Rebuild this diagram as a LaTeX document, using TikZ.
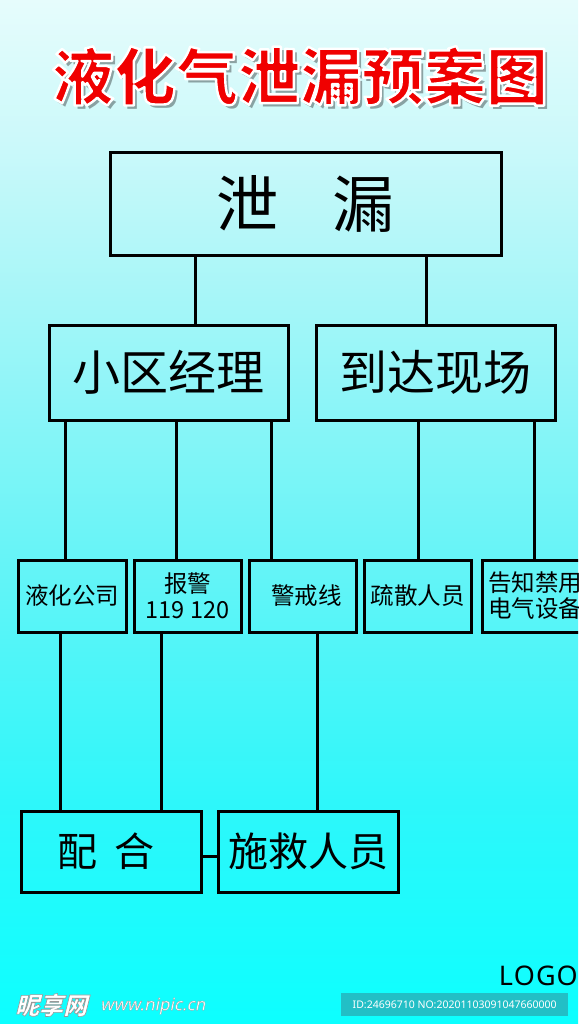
\documentclass[tikz,border=0pt]{standalone}
\usepackage{fontspec}
\newfontfamily\cjk{Noto Sans CJK SC}
\newfontfamily\cjkslant[FakeSlant=0.25]{Noto Sans CJK SC}
\newfontfamily\latinsans{Noto Sans}
\newfontfamily\latinslant[FakeSlant=0.2]{Noto Sans}
\definecolor{bgT}{HTML}{E6FCFC}
\definecolor{bgA}{HTML}{CCF9FA}
\definecolor{bgB}{HTML}{A6F6F8}
\definecolor{bgC}{HTML}{66F4F7}
\definecolor{bgD}{HTML}{2EF7FA}
\definecolor{bgE}{HTML}{0CFFFF}
\definecolor{titlered}{HTML}{F00000}
\definecolor{idteal}{HTML}{22BFC6}
\pgfdeclareverticalshading{bgshade}{100bp}{color(0bp)=(bgE); color(25bp)=(bgE); color(35.9bp)=(bgD); color(47.7bp)=(bgC); color(60.4bp)=(bgB); color(68.2bp)=(bgA); color(75bp)=(bgT); color(100bp)=(bgT)}
\newcommand{\outlinedtext}[1]{\special{pdf:literal direct 2 Tr 2.4 w 1 J 1 j 1 1 1 RG}#1\special{pdf:literal direct 0 Tr}}
\tikzset{
  box/.style={draw=black, line width=3pt, inner sep=0pt, outer sep=0pt, anchor=north west, align=center},
  conn/.style={draw=black, line width=3pt},
  ttl/.style={font=\cjk\bfseries\fontsize{62}{62}\selectfont, inner sep=0pt}
}
\begin{document}
\begin{tikzpicture}[x=1pt,y=-1pt]
\useasboundingbox (0,0) rectangle (578,1024);
\clip (0,0) rectangle (578,1024);
\shade[shading=bgshade] (0,0) rectangle (578,1024);

% title: soft shadow, then red text with white outline
\begin{scope}[opacity=0.35]
\node[ttl, text=black] (tshadow) at (303,80) {液化气泄漏预案图};
\end{scope}
\node[ttl, text=titlered] (title) at (300,76) {\outlinedtext{液化气泄漏预案图}};

% level 1
\node[box, minimum width=391pt, minimum height=102pt, font=\cjk\fontsize{62}{62}\selectfont] (leak) at (110,153) {泄\hspace{55pt}漏};

% level 2
\node[box, minimum width=239pt, minimum height=95pt, font=\cjk\fontsize{48}{48}\selectfont] (mgr) at (49,325) {小区经理};
\node[box, minimum width=239pt, minimum height=95pt, font=\cjk\fontsize{48}{48}\selectfont] (arrive) at (316,325) {到达现场};

% level 3
\tikzset{small/.style={box, minimum width=108pt, minimum height=72pt, font=\cjk\fontsize{23.5}{26}\selectfont}}
\node[small] (gas) at (18,560) {液化公司};
\node[small, minimum width=107pt] (alarm) at (134,560) {报警\\119 120};
\node[small, minimum width=107pt] (cord) at (249,560) {\hspace{8pt}警戒线};
\node[small, minimum width=107pt] (evac) at (364,560) {疏散人员};
\node[small, minimum width=110pt] (notify) at (482,560) {};
\node[font=\cjk\fontsize{23.5}{26}\selectfont, anchor=west, align=left, inner sep=0pt] (notifytext) at (488,596) {告知禁用\\电气设备};

% level 4
\node[box, minimum width=180pt, minimum height=81pt, font=\cjk\fontsize{40}{40}\selectfont] (coop) at (21,811) {配\hspace{17pt}合\hspace{10pt}};
\node[box, minimum width=180pt, minimum height=81pt, font=\cjk\fontsize{40}{40}\selectfont] (rescue) at (218,811) {施救人员};

% connector x positions
\coordinate (c1) at (195,0);
\coordinate (c2) at (426,0);
\coordinate (c3) at (65,0);
\coordinate (c4) at (176,0);
\coordinate (c5) at (271,0);
\coordinate (c6) at (418,0);
\coordinate (c7) at (534,0);
\coordinate (c8) at (60,0);
\coordinate (c9) at (161,0);
\coordinate (c10) at (317,0);

\draw[conn] (leak.south -| c1) -- (mgr.north -| c1);
\draw[conn] (leak.south -| c2) -- (arrive.north -| c2);
\draw[conn] (mgr.south -| c3) -- (gas.north -| c3);
\draw[conn] (mgr.south -| c4) -- (alarm.north -| c4);
\draw[conn] (mgr.south -| c5) -- (cord.north -| c5);
\draw[conn] (arrive.south -| c6) -- (evac.north -| c6);
\draw[conn] (arrive.south -| c7) -- (notify.north -| c7);
\draw[conn] (gas.south -| c8) -- (coop.north -| c8);
\draw[conn] (alarm.south -| c9) -- (coop.north -| c9);
\draw[conn] (cord.south -| c10) -- (rescue.north -| c10);
\draw[conn] ([yshift=-5pt]coop.east) -- ([yshift=-5pt]rescue.west);

% logo and watermark
\node[font=\latinsans\fontsize{27}{27}\selectfont, anchor=east, inner sep=0pt] (logo) at (578,976) {L\kern1ptO\kern1ptG\kern1ptO};
\node[fill=idteal, anchor=north west, minimum width=227pt, minimum height=23pt, inner sep=0pt, text=white, font=\latinsans\fontsize{10.5}{11}\selectfont] (idbox) at (341,993) {ID:24696710 NO:20201103091047660000};
\node[font=\cjkslant\bfseries\fontsize{24}{24}\selectfont, text=white, anchor=west, inner sep=0pt] (wm) at (15,1005) {\special{pdf:literal direct 2 Tr 0.6 w 0.6 0.6 0.6 RG}昵享网\special{pdf:literal direct 0 Tr}};
\node[font=\latinslant\bfseries\fontsize{17}{17}\selectfont, text=white, anchor=west, inner sep=0pt] (wmurl) at (100,1006) {\special{pdf:literal direct 2 Tr 0.3 w 0.6 0.6 0.6 RG}www.nipic.cn\special{pdf:literal direct 0 Tr}};
\end{tikzpicture}
\end{document}
